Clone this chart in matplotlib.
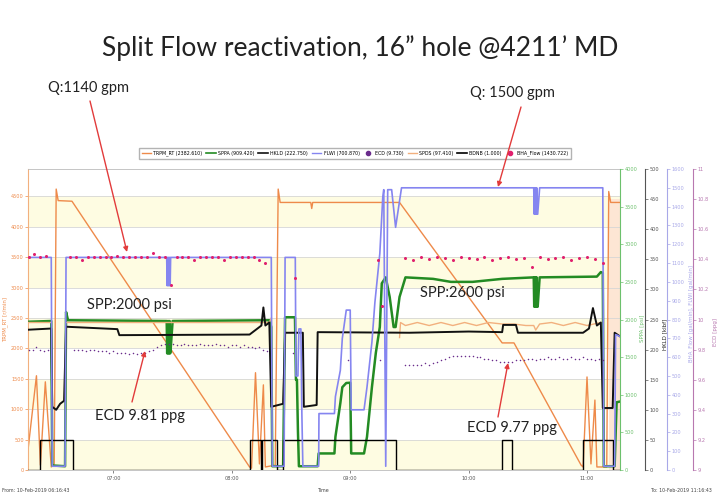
import numpy as np
import pandas as pd
import matplotlib
matplotlib.use("Agg")
import matplotlib.pyplot as plt
import matplotlib.dates as mdates
from matplotlib.lines import Line2D
from matplotlib.patches import FancyArrowPatch
from matplotlib.ticker import FuncFormatter, MultipleLocator

DAY = "2019-02-10 "
nan = np.nan

# TRPM_RT [r/min]
trpm_t = ["06:16:43", "06:21", "06:23", "06:25:30", "06:28:30", "06:30", "06:31", "06:32", "06:39",
          "08:09", "08:10", "08:12", "08:14", "08:16", "08:17", "08:22", "08:23:30", "08:24:30",
          "08:40", "08:40:30", "08:41", "09:25", "10:17", "10:23", "10:57", "10:58", "11:00",
          "11:02", "11:04", "11:05", "11:10", "11:11", "11:12", "11:16:43"]
trpm_v = [330, 1550, 80, 1450, 50, 100, 4620, 4430, 4420,
          50, 30, 1600, 100, 1400, 50, 80, 4620, 4400,
          4400, 4300, 4400, 4400, 2090, 2090, 80, 50, 1530,
          100, 1150, 50, 50, 4580, 4400, 4400]

# SPPA [psi]
sppa_t = ["06:16:43", "06:28:30", "06:29", "06:35:30", "06:36", "06:37", "07:27",
          "07:27:15", "07:27:30", "07:27:45", "07:28", "07:28:15", "07:28:30", "07:28:45", "07:29",
          "07:30", "08:19", "08:20", "08:20:30", "08:26", "08:27", "08:32", "08:32:30", "08:33",
          "08:33:30", "08:34", "08:43:30", "08:44", "08:52", "08:52:30", "08:55", "08:56", "08:58",
          "09:00", "09:00:30", "09:07", "09:08:30", "09:11", "09:13", "09:15", "09:16", "09:18",
          "09:20", "09:22", "09:23", "09:25", "09:28", "09:42", "09:51", "10:02", "10:17", "10:33",
          "10:33:15", "10:33:30", "10:33:45", "10:34", "10:34:15", "10:34:30", "10:34:45", "10:35",
          "10:36", "11:05", "11:07", "11:08", "11:08:30", "11:14", "11:15", "11:16:43"]
sppa_v = [1970, 1980, 60, 50, 2100, 1990, 1980,
          1550, 1980, 1550, 1980, 1550, 1980, 1550, 1600,
          1980, 1990, 1900, 50, 50, 2030, 2030, 1200, 1200,
          530, 50, 50, 220, 220, 440, 890, 1100, 1156,
          1160, 220, 220, 440, 1100, 1560, 1900, 2480, 2560,
          2300, 1900, 1900, 2300, 2560, 2540, 2500, 2500, 2540, 2560,
          2170, 2560, 2170, 2560, 2170, 2560, 2170, 2170,
          2560, 2570, 2630, 2620, 50, 50, 900, 910]

# HKLD [klbf]
hkld_t = ["06:16:43", "06:28:30", "06:29", "06:31", "06:33", "06:35", "06:36", "07:02", "07:03",
          "08:09", "08:13", "08:15", "08:16", "08:17", "08:19", "08:20", "08:26", "08:27", "08:36",
          "08:36:30", "08:43", "08:43:30", "09:30", "10:00", "10:17", "10:17:30", "10:24", "10:25",
          "10:58", "11:01", "11:03", "11:05", "11:07", "11:08", "11:13", "11:14", "11:16:43"]
hkld_v = [233, 235, 105, 100, 110, 115, 238, 234, 224,
          225, 235, 240, 270, 240, 245, 105, 110, 228, 228,
          105, 108, 229, 228, 230, 229, 241, 241, 228,
          228, 235, 269, 240, 245, 103, 103, 228, 222]

# FLWI [gal/min]
flwi_t = ["06:16:43", "06:28:30", "06:29", "06:35:30", "06:36", "07:27", "07:27:15", "07:27:30",
          "07:27:45", "07:28", "07:28:15", "07:28:30", "07:28:45", "07:29", "07:30", "08:20",
          "08:20:30", "08:26:30", "08:27", "08:32:10", "08:32:30", "08:33:30", "08:34", "08:35",
          "08:35:30", "08:36", "08:44", "08:44:10", "08:52", "08:52:30", "08:55", "08:56", "08:58",
          "09:00", "09:00:30", "09:07", "09:08:30", "09:11", "09:12:30", "09:15", "09:16:30",
          "09:17", "09:18", "09:19", "09:21", "09:23", "09:26", "10:33", "10:33:15", "10:33:30",
          "10:33:45", "10:34", "10:34:15", "10:34:30", "10:34:45", "10:35", "10:36", "11:08",
          "11:08:30", "11:14", "11:14:30", "11:16:43"]
flwi_v = [1130, 1130, 20, 20, 1130, 1130, 980, 1130,
          980, 1130, 980, 1130, 980, 1130, 1130, 1130,
          20, 20, 1130, 1130, 500, 500, 750, 750,
          300, 20, 20, 300, 300, 390, 530, 700, 850,
          850, 320, 320, 440, 680, 890, 1150, 1450,
          1490, 20, 1490, 1490, 1290, 1500, 1500, 1360, 1500,
          1360, 1500, 1360, 1500, 1360, 1360, 1500, 1500,
          20, 20, 720, 710]

# SPDS [spm]
spds_t = ["06:16:43", "06:28:30", "06:29", "06:36", "08:19", "08:20", "08:20:30", "09:25",
          "09:25:30", "09:28", "09:34", "09:40", "09:46", "09:52", "09:58", "10:04", "10:10",
          "10:17", "10:23", "10:29", "10:33", "10:34", "10:36", "10:42", "10:48", "10:54",
          "11:00", "11:07"]
spds_v = [98, 98, nan, 98, 98, 101, nan, 88,
          98, 96, 98, 96, 98, 96, 98, 96, 98,
          97, 97, 96, 96, 93, 97, 98, 96, 98,
          96, 98]

# BDNB
bdnb_t = ["06:16:43", "06:23", "06:23", "06:39:30", "06:39:30", "08:09", "08:09", "08:15",
          "08:15", "08:15:30", "08:15:30", "08:23", "08:23", "08:26", "08:26", "09:23", "09:23",
          "10:17", "10:17", "10:22", "10:22", "10:58", "10:58", "11:13", "11:13", "11:16:43"]
bdnb_v = [0, 0, 1, 1, 0, 0, 1, 1,
          0, 0, 1, 1, 0, 0, 1, 1, 0,
          0, 1, 1, 0, 0, 1, 1, 0, 0]

# BHA_Flow [gal/min], logged samples
bha_a = [1130, 1150, 1130, 1135]                       # from 06:17, every 3 min
bha_b = [1130, 1130, 1115, 1130, 1130, 1130, 1130, 1130, 1135, 1130, 1130, 1130,
         1130, 1130, 1155, 1130, 1130, 985, 1130, 1130, 1130, 1115, 1130, 1130,
         1130, 1130, 1115, 1130, 1130, 1130, 1130, 1130, 1115, 1100]  # from 06:38
bha_c = [1125, 1115, 1130, 1120, 1130, 1125, 1115, 1130, 1125, 1120, 1130, 1115,
         1125, 1130, 1120, 1125, 1080, 1130, 1120, 1125, 1130, 1115, 1125, 1130,
         1120, 1100]                                   # from 09:28, every 4 min
bha_x_t = ["08:32", "09:14", "09:16"]
bha_x_v = [1020, 1115, 870]

# ECD [ppg], logged samples every 2 min
ecd_a = [9.80, 9.80, 9.82, 9.80, 9.79, 9.80]          # from 06:17
ecd_b = [9.80, 9.80, 9.80, 9.79, 9.80, 9.80, 9.79, 9.79, 9.79, 9.78,
         9.79, 9.78, 9.78, 9.78, 9.77, 9.78, 9.77, 9.78, 9.78, 9.79,
         9.80, 9.82, 9.83, 9.84, 9.84, 9.84, 9.83, 9.83, 9.84, 9.83,
         9.83, 9.83, 9.84, 9.83, 9.83, 9.83, 9.84, 9.83, 9.83, 9.82,
         9.83, 9.83, 9.82, 9.83, 9.82, 9.82, 9.81, 9.82, 9.80, 9.79]  # from 06:40
ecd_c = [9.70, 9.70, 9.70, 9.70, 9.70, 9.71, 9.70, 9.71, 9.72, 9.73,
         9.74, 9.75, 9.76, 9.76, 9.76, 9.76, 9.76, 9.76, 9.75, 9.75,
         9.74, 9.74, 9.73, 9.73, 9.72, 9.72, 9.72, 9.72, 9.73, 9.73,
         9.73, 9.74, 9.74, 9.73, 9.74, 9.74, 9.75, 9.74, 9.74, 9.75,
         9.74, 9.74, 9.75, 9.74, 9.74, 9.75, 9.74, 9.74, 9.73, 9.74, 9.73]  # from 09:28
ecd_x_t = ["08:31", "08:59", "09:15"]
ecd_x_v = [9.78, 9.73, 9.73]

legend_labels = ["TRPM_RT (2382.610)", "SPPA (909.420)", "HKLD (222.750)", "FLWI (700.870)",
                 "ECD (9.730)", "SPDS (97.410)", "BDNB (1.000)", "BHA_Flow (1430.722)"]

C_TRPM = "#EE8A4A"
C_SPPA = "#238B23"
C_SPPA_AX = "#6CC06C"
C_HKLD = "#111111"
C_FLWI = "#8585F0"
C_FLOW_AX = "#A8A8E8"
C_ECD = "#6A2C8C"
C_ECD_AX = "#B878B0"
C_SPDS = "#F2B07E"
C_BHA = "#E0206E"
C_RED = "#E23B3B"
BAND = "#FEFCE2"
ANNOT_FONT = ["Lato", "DejaVu Sans"]


def to_time(times):
    return pd.to_datetime([DAY + (t if len(t) == 8 else t + ":00") for t in times])


def sampled(start, values, step):
    return pd.date_range(DAY + start, periods=len(values), freq=step)


def style_right(a, color, spine_pos, step, fmt=None):
    if spine_pos is not None:
        a.spines["right"].set_position(("axes", spine_pos))
    a.spines["right"].set_color(color)
    a.spines["right"].set_linewidth(0.8)
    for s in ("top", "bottom", "left"):
        a.spines[s].set_visible(False)
    a.yaxis.set_major_locator(MultipleLocator(step))
    if fmt is not None:
        a.yaxis.set_major_formatter(fmt)
    a.tick_params(axis="y", colors=color, labelsize=3.6, length=2.5, width=0.5, pad=1)


fig = plt.figure(figsize=(7.2, 4.95), dpi=100)
ax = fig.add_axes([28 / 720, 25 / 495, 592 / 720, 301 / 495])

# alternating background bands + grid
for lo in range(0, 4500, 1000):
    ax.axhspan(lo, lo + 500, color=BAND, lw=0, zorder=0)
ax.grid(axis="y", color="#D6D6D6", lw=0.6)
ax.set_axisbelow(True)

t0 = pd.Timestamp(DAY + "06:16:43")
t1 = pd.Timestamp(DAY + "11:16:43")
ax.axvspan(pd.Timestamp(DAY + "11:11"), t1, ymax=0.9, color="#FDE6D4", lw=0, zorder=0.5)

ax.plot(to_time(trpm_t), trpm_v, color=C_TRPM, lw=1.0)
ax.set_xlim(t0, t1)
ax.set_ylim(0, 4950)
ax.set_yticks(range(0, 5000, 500))
ax.tick_params(axis="y", colors=C_TRPM, labelsize=3.6, length=2, width=0.5, pad=1)
ax.set_ylabel("TRPM_RT [r/min]", color=C_TRPM, fontsize=4)
ax.yaxis.set_label_coords(-0.034, 0.5)
ax.xaxis.set_major_locator(mdates.HourLocator())
ax.xaxis.set_major_formatter(mdates.DateFormatter("%H:%M"))
ax.tick_params(axis="x", colors="#555555", labelsize=3.6, length=2, width=0.5, pad=2)
for s in ("top", "bottom", "right"):
    ax.spines[s].set_color("#BBBBBB")
    ax.spines[s].set_linewidth(0.6)
ax.spines["left"].set_color(C_SPDS)
ax.spines["left"].set_linewidth(0.8)

ax_sppa = ax.twinx()
ax_sppa.plot(to_time(sppa_t), sppa_v, color=C_SPPA, lw=1.8)
ax_sppa.set_ylim(0, 4000)
style_right(ax_sppa, C_SPPA_AX, None, 500)
ax_sppa.set_ylabel("SPPA [psi]", color=C_SPPA_AX, fontsize=4)
ax_sppa.yaxis.set_label_coords(1.034, 0.47)

ax_spds = ax.twinx()
ax_spds.plot(to_time(spds_t), spds_v, color=C_SPDS, lw=1.0)
ax_spds.set_ylim(0, 200)
ax_spds.axis("off")

ax_hkld = ax.twinx()
ax_hkld.plot(to_time(hkld_t), hkld_v, color=C_HKLD, lw=1.4)
ax_hkld.set_ylim(0, 500)
style_right(ax_hkld, "#555555", 1.042, 50)
ax_hkld.set_ylabel("HKLD [klbf]", color="#222222", fontsize=4)
ax_hkld.yaxis.set_label_coords(1.071, 0.45)

ax_bdnb = ax.twinx()
ax_bdnb.plot(to_time(bdnb_t), bdnb_v, color="black", lw=1.0)
ax_bdnb.set_ylim(0, 10)
ax_bdnb.axis("off")

ax_flow = ax.twinx()
ax_flow.plot(to_time(flwi_t), flwi_v, color=C_FLWI, lw=1.2)
for start, vals, step in (("06:17", bha_a, "3min"), ("06:38", bha_b, "3min"), ("09:28", bha_c, "4min")):
    ax_flow.plot(sampled(start, vals, step), vals, ls="none", marker="o", ms=2.2,
                 color=C_BHA, mew=0)
ax_flow.plot(to_time(bha_x_t), bha_x_v, ls="none", marker="o", ms=2.2, color=C_BHA, mew=0)
ax_flow.set_ylim(0, 1600)
style_right(ax_flow, C_FLOW_AX, 1.079, 100)
ax_flow.set_ylabel("BHA_Flow [gal/min], FLWI [gal/min]", color=C_FLOW_AX, fontsize=4)
ax_flow.yaxis.set_label_coords(1.115, 0.52)

ax_ecd = ax.twinx()
for start, vals in (("06:17", ecd_a), ("06:40", ecd_b), ("09:28", ecd_c)):
    ax_ecd.plot(sampled(start, vals, "2min"), vals, ls="none", marker="o", ms=1.1,
                color=C_ECD, mew=0)
ax_ecd.plot(to_time(ecd_x_t), ecd_x_v, ls="none", marker="o", ms=1.1, color=C_ECD, mew=0)
ax_ecd.set_ylim(9, 11)
style_right(ax_ecd, C_ECD_AX, 1.123, 0.2, FuncFormatter(lambda v, p: f"{v:g}"))
ax_ecd.set_ylabel("ECD [ppg]", color=C_ECD_AX, fontsize=4)
ax_ecd.yaxis.set_label_coords(1.157, 0.46)

# legend strip above the plot
handles = [Line2D([], [], color=C_TRPM, lw=1), Line2D([], [], color=C_SPPA, lw=1.2),
           Line2D([], [], color=C_HKLD, lw=1.2), Line2D([], [], color=C_FLWI, lw=1),
           Line2D([], [], ls="none", marker="o", ms=3, color=C_ECD),
           Line2D([], [], color=C_SPDS, lw=1), Line2D([], [], color="black", lw=1.2),
           Line2D([], [], ls="none", marker="o", ms=3, color=C_BHA)]
fig.legend(handles, legend_labels, loc="center", bbox_to_anchor=(355 / 720, 1 - 153.5 / 495),
           ncol=8, fontsize=3.4, frameon=True, fancybox=False, edgecolor="#A0A0A0",
           handlelength=2.0, columnspacing=0.8, handletextpad=0.5, borderpad=0.5)

# bottom strip texts
fig.text(2 / 720, 1 - 491 / 495, "From: 10-Feb-2019 06:16:43", fontsize=3.4, color="#444444",
         va="center")
fig.text(324 / 720, 1 - 491 / 495, "Time", fontsize=3.4, color="#444444", va="center",
         ha="center")
fig.text(712 / 720, 1 - 491 / 495, "To: 10-Feb-2019 11:16:43", fontsize=3.4, color="#444444",
         va="center", ha="right")

# slide title and call-outs
fig.text(0.5, 1 - 48 / 495, "Split Flow reactivation, 16\u201d hole @4211\u2019 MD", fontsize=19,
         ha="center", va="center", family=ANNOT_FONT, color="#222222")
fig.text(48 / 720, 1 - 88 / 495, "Q:1140 gpm", fontsize=10.5, va="center", family=ANNOT_FONT,
         color="#222222")
fig.text(470 / 720, 1 - 93 / 495, "Q: 1500 gpm", fontsize=10.5, va="center", family=ANNOT_FONT,
         color="#222222")
fig.text(87 / 720, 1 - 305 / 495, "SPP:2000 psi", fontsize=10.5, va="center", family=ANNOT_FONT,
         color="#222222")
fig.text(420 / 720, 1 - 293 / 495, "SPP:2600 psi", fontsize=10.5, va="center", family=ANNOT_FONT,
         color="#222222")
fig.text(95 / 720, 1 - 416 / 495, "ECD 9.81 ppg", fontsize=10.5, va="center", family=ANNOT_FONT,
         color="#222222")
fig.text(467 / 720, 1 - 428 / 495, "ECD 9.77 ppg", fontsize=10.5, va="center", family=ANNOT_FONT,
         color="#222222")

arrows = [((90, 101), (127, 252)), ((521, 107), (498, 187)),
          ((132, 402), (145, 351)), ((498, 417), (508, 363))]
for (xa, ya), (xb, yb) in arrows:
    fig.add_artist(FancyArrowPatch((xa / 720, 1 - ya / 495), (xb / 720, 1 - yb / 495),
                                   transform=fig.transFigure, arrowstyle="-|>",
                                   mutation_scale=7, color=C_RED, lw=1.0, zorder=10,
                                   shrinkA=0, shrinkB=0))

fig.savefig("out.png", dpi=100)
